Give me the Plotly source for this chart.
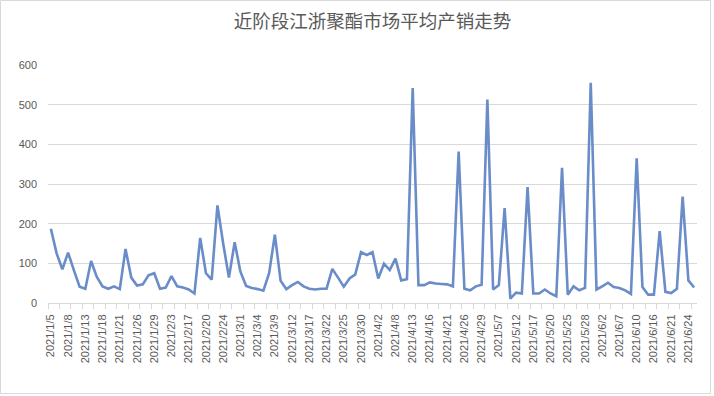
import plotly.graph_objects as go

title = "近阶段江浙聚酯市场平均产销走势"

dates = [
    "2021/1/5", "2021/1/6", "2021/1/7", "2021/1/8", "2021/1/11", "2021/1/12", "2021/1/13",
    "2021/1/14", "2021/1/15", "2021/1/18", "2021/1/19", "2021/1/20", "2021/1/21", "2021/1/22",
    "2021/1/25", "2021/1/26", "2021/1/27", "2021/1/28", "2021/1/29",
    "2021/2/1", "2021/2/2", "2021/2/3", "2021/2/4", "2021/2/5", "2021/2/17", "2021/2/18",
    "2021/2/19", "2021/2/20", "2021/2/22", "2021/2/23", "2021/2/24", "2021/2/25", "2021/2/26",
    "2021/3/1", "2021/3/2", "2021/3/3", "2021/3/4", "2021/3/5", "2021/3/8", "2021/3/9",
    "2021/3/10", "2021/3/11", "2021/3/12", "2021/3/15", "2021/3/16", "2021/3/17", "2021/3/18",
    "2021/3/19", "2021/3/22", "2021/3/23", "2021/3/24", "2021/3/25", "2021/3/26", "2021/3/29",
    "2021/3/30", "2021/3/31",
    "2021/4/1", "2021/4/2", "2021/4/6", "2021/4/7", "2021/4/8", "2021/4/9", "2021/4/12",
    "2021/4/13", "2021/4/14", "2021/4/15", "2021/4/16", "2021/4/19", "2021/4/20", "2021/4/21",
    "2021/4/22", "2021/4/23", "2021/4/26", "2021/4/27", "2021/4/28", "2021/4/29", "2021/4/30",
    "2021/5/6", "2021/5/7", "2021/5/10", "2021/5/11", "2021/5/12", "2021/5/13", "2021/5/14",
    "2021/5/17", "2021/5/18", "2021/5/19", "2021/5/20", "2021/5/21", "2021/5/24", "2021/5/25",
    "2021/5/26", "2021/5/27", "2021/5/28", "2021/5/31",
    "2021/6/1", "2021/6/2", "2021/6/3", "2021/6/4", "2021/6/7", "2021/6/8", "2021/6/9",
    "2021/6/10", "2021/6/11", "2021/6/15", "2021/6/16", "2021/6/17", "2021/6/18", "2021/6/21",
    "2021/6/22", "2021/6/23", "2021/6/24", "2021/6/25",
]

values = [
    187, 125, 85, 127, 83, 41, 36, 106, 66, 42, 36, 42, 35, 136, 64, 44, 47, 70, 75,
    36, 39, 68, 42, 39, 34, 24, 164, 75, 59, 246, 150, 64, 153,
    79, 43, 38, 35, 31, 75, 172, 56, 35, 45, 53, 42, 36, 34, 36, 36, 86, 64, 41, 62, 72,
    128, 121, 128,
    62, 99, 83, 112, 57, 60, 542, 45, 45, 52, 49, 48, 47, 42, 382, 36, 32, 42, 46, 513,
    34, 45, 239, 11, 26, 24, 292, 24, 24, 34, 24, 17, 341, 21, 42, 32, 38, 555, 34,
    42, 51, 40, 38, 32, 23, 365, 40, 21, 21, 181, 28, 25, 36, 268, 57, 39,
]

label_dates = dates[::3]
y_ticks = [0, 100, 200, 300, 400, 500, 600]

W, H = 714, 396
ML, MR, MT, MB = 48, 17, 65, 93
PW, PH = W - ML - MR, H - MT - MB
n = len(dates)

font_family = "Liberation Sans, Noto Sans CJK SC, sans-serif"
text_color = "#595959"
grid_color = "#d9d9d9"

fig = go.Figure()
fig.add_trace(go.Scatter(
    x=dates, y=values, mode="lines",
    line=dict(color="#6a8cc8", width=2.6),
    hoverinfo="x+y", showlegend=False,
))
# empty trace to register the tick-mark overlay axis
fig.add_trace(go.Scatter(x=[], y=[], xaxis="x2", yaxis="y", showlegend=False))

# tick marks at every second category boundary
tick_bounds = [i - 0.5 for i in range(0, n + 1, 2)]

fig.update_layout(
    width=W, height=H,
    margin=dict(l=ML, r=MR, t=MT, b=MB, pad=0),
    paper_bgcolor="white", plot_bgcolor="white",
    title=dict(text=title, x=0.5, xref="paper", y=1 - 22 / H, yanchor="middle",
               xanchor="center",
               font=dict(family="Noto Sans CJK SC, sans-serif", size=18.5, color=text_color)),
    font=dict(family=font_family, size=11, color=text_color),
    xaxis=dict(
        type="category", categoryorder="array", categoryarray=dates,
        range=[-0.5, n - 0.5],
        tickmode="array", tickvals=label_dates, ticktext=label_dates,
        tickangle=-90, ticks="", showgrid=False,
        showline=True, linecolor=grid_color, linewidth=1,
        tickfont=dict(size=11, color=text_color),
        ticklabelstandoff=6,
        zeroline=False,
    ),
    xaxis2=dict(
        overlaying="x", anchor="y", side="bottom",
        range=[-0.5, n - 0.5], tickmode="array", tickvals=tick_bounds,
        ticks="outside", ticklen=5, tickcolor=grid_color, tickwidth=1,
        showticklabels=False, showgrid=False, showline=False, zeroline=False,
    ),
    yaxis=dict(
        range=[0, 600], tickmode="array", tickvals=y_ticks,
        showgrid=True, gridcolor=grid_color, gridwidth=1,
        zeroline=False, showline=False, ticks="",
        tickfont=dict(size=11, color=text_color),
        ticklabelstandoff=10,
    ),
    shapes=[dict(
        type="rect", xref="paper", yref="paper",
        x0=(0.5 - ML) / PW, x1=(710.5 - ML) / PW,
        y0=(H - MB - 393.5) / PH, y1=(H - MB - 0.5) / PH,
        line=dict(color=grid_color, width=1), fillcolor="rgba(0,0,0,0)",
        layer="above",
    )],
)

fig.write_html("out.html", config={"displayModeBar": False})

# remove the browser's default page margin so the figure sits at the window origin
with open("out.html", "r", encoding="utf-8") as f:
    html = f.read()
html = html.replace("<head>", "<head><style>html,body{margin:0;padding:0;}</style>", 1)
with open("out.html", "w", encoding="utf-8") as f:
    f.write(html)
